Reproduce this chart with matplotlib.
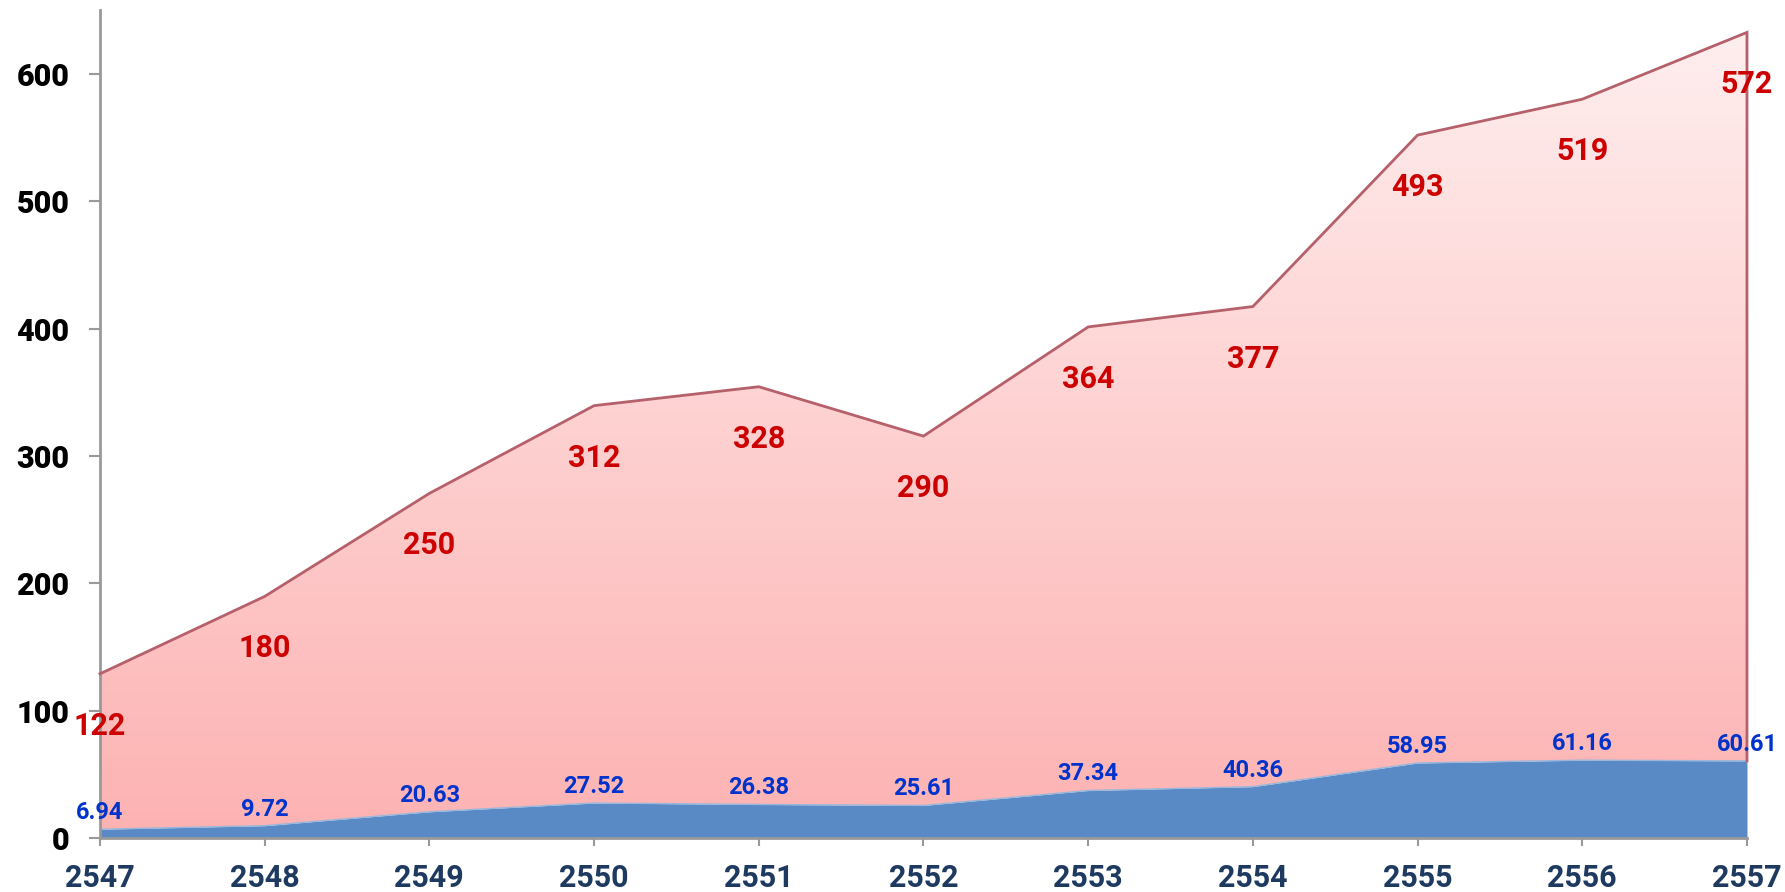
import numpy as np
import matplotlib.pyplot as plt
from matplotlib.colors import LinearSegmentedColormap

years = [2547, 2548, 2549, 2550, 2551, 2552, 2553, 2554, 2555, 2556, 2557]
red_vals = [122, 180, 250, 312, 328, 290, 364, 377, 493, 519, 572]
blue_vals = [6.94, 9.72, 20.63, 27.52, 26.38, 25.61, 37.34, 40.36, 58.95, 61.16, 60.61]
yticks = [0, 100, 200, 300, 400, 500, 600]

plt.rcParams['font.family'] = ['Roboto', 'DejaVu Sans']

fig = plt.figure(figsize=(17.85, 8.92), dpi=100)
ax = fig.add_axes([0.056, 0.0605, 0.9227, 0.928])

x = np.array(years)
blue = np.array(blue_vals)
top = blue + np.array(red_vals)

# blue area at bottom
ax.fill_between(x, 0, blue, color='#5a8ac6', lw=0, zorder=2)
ax.plot(x, blue, color='#9ab6da', lw=1, zorder=2)

# red stacked area with vertical gradient
poly = ax.fill_between(x, blue, top, facecolor='none', lw=0, zorder=3)
cmap = LinearSegmentedColormap.from_list('pinks', ['#fdb2b2', '#fed0d0', '#ffeeee'])
grad = np.linspace(0, 1, 256).reshape(-1, 1)
img = ax.imshow(grad, aspect='auto', cmap=cmap, origin='lower',
                extent=[x[0], x[-1], 0, top.max()], zorder=1)
img.set_clip_path(poly.get_paths()[0], transform=ax.transData)
# outline: top edge and right side
ax.plot(list(x) + [x[-1]], list(top) + [blue[-1]], color='#b5606a', lw=2,
        zorder=3, clip_on=False, solid_joinstyle='miter')

# labels
for xi, t, v in zip(x, top, red_vals):
    ax.annotate(str(v), (xi, t), xytext=(0, -52), textcoords='offset pixels',
                ha='center', va='center', color='#cc0000', fontsize=22,
                fontweight='bold', zorder=5)
for xi, b in zip(x, blue):
    ax.annotate('%.2f' % b, (xi, b), xytext=(0, 5), textcoords='offset pixels',
                ha='center', va='bottom', color='#0033cc', fontsize=17,
                fontweight='bold', zorder=5)

ax.set_xlim(x[0], x[-1])
ax.set_ylim(0, 650)
ax.set_xticks(years)
ax.set_yticks(yticks)
ax.set_xticklabels([str(y) for y in years], fontsize=22, fontweight='bold', color='#1f3a60')
ax.set_yticklabels([str(t) for t in yticks], fontsize=22, fontweight='black', color='black')
ax.tick_params(axis='y', length=8, width=1.5, color='#999999', pad=14)
ax.tick_params(axis='x', length=6, width=1.5, color='#999999', pad=12)
for s in ['top', 'right']:
    ax.spines[s].set_visible(False)
for s in ['left', 'bottom']:
    ax.spines[s].set_color('#999999')
    ax.spines[s].set_linewidth(2)
ax.set_facecolor('white')

fig.savefig('out.png', dpi=100)
